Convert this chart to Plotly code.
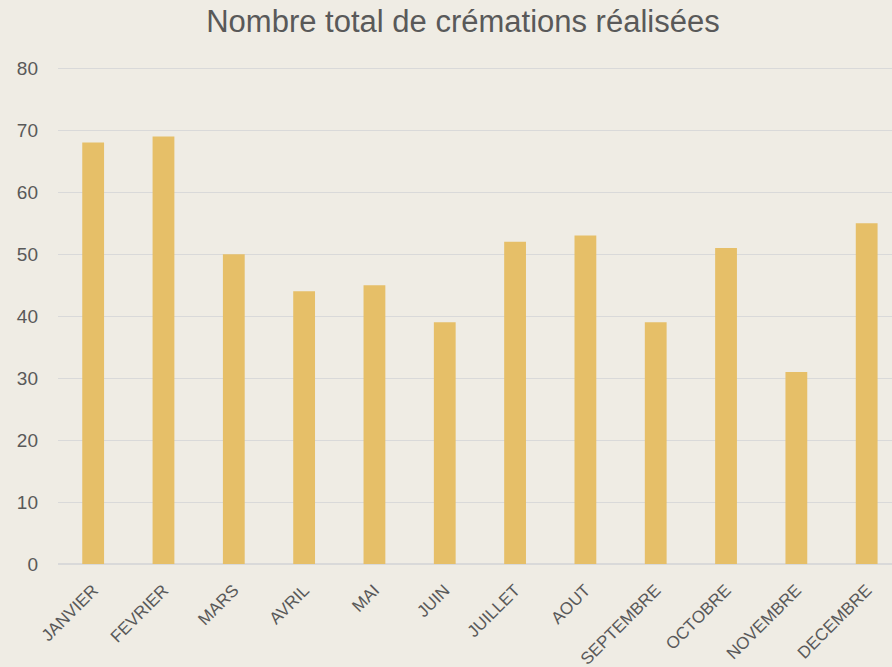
import plotly.graph_objects as go

months = ["JANVIER", "FEVRIER", "MARS", "AVRIL", "MAI", "JUIN", "JUILLET",
          "AOUT", "SEPTEMBRE", "OCTOBRE", "NOVEMBRE", "DECEMBRE"]
cremations = [68, 69, 50, 44, 45, 39, 52, 53, 39, 51, 31, 55]
y_ticks = [0, 10, 20, 30, 40, 50, 60, 70, 80]
title_text = "Nombre total de crémations réalisées"

BG = "#EFECE4"
BAR = "#E6BF68"
TXT = "#595959"
GRID = "#D9D9D9"
FONT = "Liberation Sans, Arial, sans-serif"

fig = go.Figure(go.Bar(x=months, y=cremations, marker=dict(color=BAR, line=dict(width=0))))

fig.update_layout(
    width=892, height=667,
    paper_bgcolor=BG, plot_bgcolor=BG,
    margin=dict(l=58, r=0, t=67, b=103, autoexpand=False),
    bargap=0.69,
    showlegend=False,
    title=dict(text=title_text, x=0.519, xanchor="center", y=0.968, yanchor="middle",
               font=dict(family=FONT, size=31, color=TXT)),
    font=dict(family=FONT, color=TXT),
)
fig.update_xaxes(
    range=[-0.5, 11.36], tickangle=-45, tickfont=dict(size=17, color=TXT),
    showgrid=False, showline=False, ticks="", ticklabelstandoff=12,
)
fig.update_yaxes(
    range=[0, 80.2], tickvals=y_ticks, tickfont=dict(size=19, color=TXT),
    showgrid=True, gridcolor=GRID, gridwidth=1,
    zeroline=True, zerolinecolor=GRID, zerolinewidth=1.5,
    showline=False, ticks="", ticklabelstandoff=19,
)

fig.write_html("out.html", config={"displayModeBar": False},
               post_script="document.body.style.margin='0';document.body.style.overflow='hidden';")
